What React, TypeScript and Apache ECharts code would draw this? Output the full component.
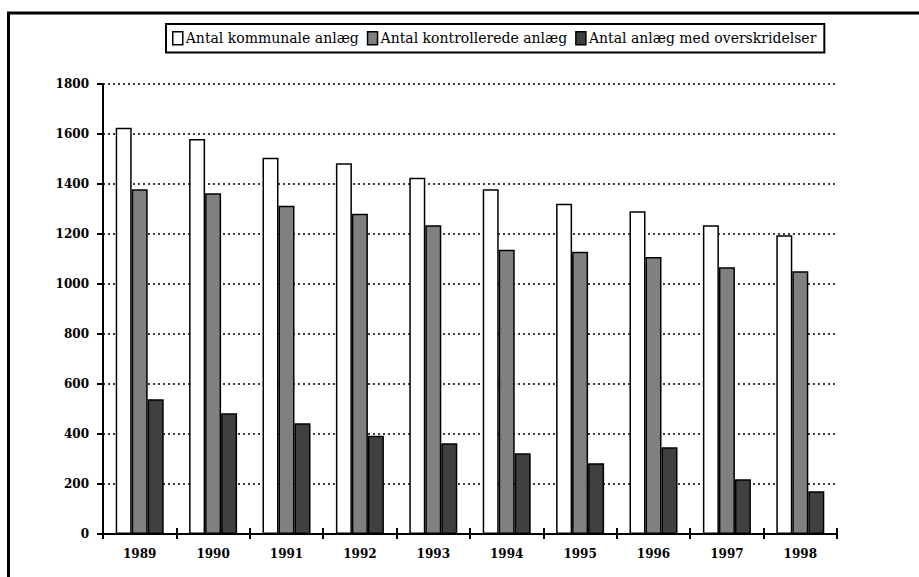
import React, { useEffect, useRef } from "react";
import * as echarts from "echarts";

const years = ["1989", "1990", "1991", "1992", "1993", "1994", "1995", "1996", "1997", "1998"];
const kommunale = [1625, 1580, 1505, 1483, 1425, 1379, 1321, 1291, 1235, 1195];
const kontrollerede = [1379, 1363, 1313, 1281, 1235, 1137, 1129, 1108, 1067, 1051];
const overskridelser = [539, 483, 443, 393, 363, 323, 283, 347, 219, 171];
const seriesNames = ["Antal kommunale anlæg", "Antal kontrollerede anlæg", "Antal anlæg med overskridelser"];
const seriesColors = ["#ffffff", "#808080", "#404040"];
const seriesData = [kommunale, kontrollerede, overskridelser];

export default function App() {
  const ref = useRef<HTMLDivElement>(null);
  useEffect(() => {
    if (!ref.current) return;
    const chart = echarts.init(ref.current, undefined, { renderer: "svg" });
    const font = "DejaVu Serif";
    chart.setOption({
      animation: false,
      backgroundColor: "#ffffff",
      textStyle: { fontFamily: font },
      graphic: [
        {
          type: "rect",
          shape: { x: 8.5, y: 13, width: 1000, height: 700 },
          style: { fill: "none", stroke: "#000", lineWidth: 3 },
          silent: true,
        },
      ],
      legend: {
        left: 166,
        top: 24,
        data: seriesNames,
        itemWidth: 10,
        itemHeight: 13,
        itemGap: 8,
        padding: [7, 8, 7, 6],
        backgroundColor: "#fff",
        borderColor: "#000",
        borderWidth: 2,
        icon: "rect",
        textStyle: { fontFamily: font, fontSize: 14, color: "#000", padding: [0, 0, 0, -2] },
        itemStyle: { borderColor: "#000", borderWidth: 1.5 },
      },
      grid: { left: 103, right: 82, top: 84, bottom: 43, containLabel: false },
      xAxis: [
        {
          type: "category",
          data: years,
          boundaryGap: true,
          axisLine: { lineStyle: { color: "#000", width: 2 } },
          axisTick: { show: true, alignWithLabel: false, length: 5, lineStyle: { color: "#000", width: 2 } },
          axisLabel: { color: "#000", fontFamily: font, fontSize: 12, fontWeight: "bold", margin: 14 },
          splitLine: { show: false },
        },
        {
          type: "category",
          data: years,
          position: "bottom",
          boundaryGap: true,
          axisLine: { show: false },
          axisTick: { show: true, inside: true, alignWithLabel: false, length: 6, lineStyle: { color: "#000", width: 2 } },
          axisLabel: { show: false },
          splitLine: { show: false },
        },
      ],
      yAxis: {
        type: "value",
        min: 0,
        max: 1800,
        interval: 200,
        axisLine: { show: true, lineStyle: { color: "#000", width: 2 } },
        axisTick: { show: true, length: 6, lineStyle: { color: "#000", width: 2 } },
        axisLabel: {
          color: "#000",
          fontFamily: font,
          fontSize: 12,
          fontWeight: "bold",
          margin: 14,
          formatter: (v: number) => String(v),
        },
        splitLine: { show: true, lineStyle: { color: "#000", type: [2, 3], width: 1.5 } },
      },
      series: seriesNames.map((name, i) => ({
        name,
        type: "bar",
        xAxisIndex: 0,
        data: seriesData[i],
        barWidth: 16,
        barGap: "0%",
        itemStyle: { color: seriesColors[i], borderColor: "#000", borderWidth: 1.5 },
      })),
    });
    return () => chart.dispose();
  }, []);
  return (
    <div
      ref={ref}
      style={{ position: "fixed", left: 0, top: 0, width: 919, height: 577 }}
    />
  );
}
